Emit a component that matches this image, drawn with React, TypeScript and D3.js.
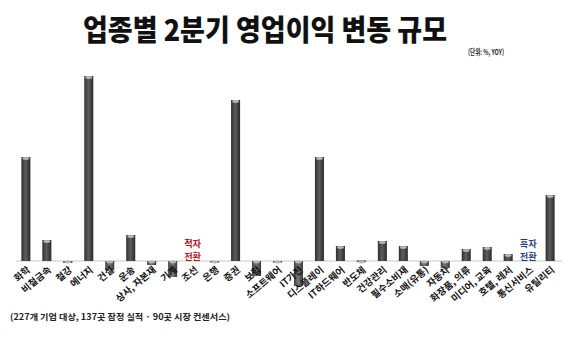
import React from "react";
import * as d3 from "d3";

const categories = [
  "화학", "비철금속", "철강", "에너지", "건설", "운송", "상사, 자본재", "기계", "조선", "은행",
  "증권", "보험", "소프트웨어", "IT가전", "디스플레이", "IT하드웨어", "반도체", "건강관리",
  "필수소비재", "소매(유통)", "자동차", "화장품, 의류", "미디어, 교육", "호텔, 레저", "통신서비스", "유틸리티",
];
const values: (number | null)[] = [
  104, 21, -2, 185, -9, 26, -4, -16, null, -1,
  161, -15, -1, -25, 104, 15, 0.5, 20,
  15, -5, -7, 12, 14, 7, null, 66,
];
const notes = [
  { category: "조선", lines: ["적자", "전환"], color: "#c0141c" },
  { category: "통신서비스", lines: ["흑자", "전환"], color: "#1f3f86" },
];
const title = "업종별 2분기 영업이익 변동 규모";
const unit = "(단위: %, YOY)";
const source = "(227개 기업 대상, 137곳 잠정 실적 · 90곳 시장 컨센서스)";

const W = 580, H = 342;
const FONT = "'Noto Sans CJK KR', 'Noto Sans', sans-serif";

export default function App() {
  const x = d3.scaleBand<string>().domain(categories).range([15.5, 560.5]).paddingInner(0.57).paddingOuter(0.28);
  const y = d3.scaleLinear().domain([-30, 200]).range([291, 61]);
  const bw = x.bandwidth();
  const cx = (c: string) => (x(c) as number) + bw / 2;
  const y0 = y(0);

  return (
    <svg width={W} height={H} style={{ position: "absolute", left: 0, top: 0, background: "#fff" }}>
      <defs>
        <linearGradient id="cyl" x1="0" x2="1" y1="0" y2="0">
          <stop offset="0" stopColor="#2e2e2e" />
          <stop offset="0.45" stopColor="#5e5e5e" />
          <stop offset="1" stopColor="#2a2a2a" />
        </linearGradient>
        <linearGradient id="cylNeg" x1="0" x2="1" y1="0" y2="0">
          <stop offset="0" stopColor="#3c3c3c" />
          <stop offset="0.45" stopColor="#7a7a7a" />
          <stop offset="1" stopColor="#383838" />
        </linearGradient>
      </defs>
      <rect width={W} height={H} fill="#fff" />
      <text x={265} y={41} textAnchor="middle" fontFamily={FONT} fontWeight={900} fontSize={29}
        textLength={364} lengthAdjust="spacingAndGlyphs" fill="#111">{title}</text>
      <text x={468} y={55} fontFamily={FONT} fontWeight={700} fontSize={8}
        textLength={36} lengthAdjust="spacingAndGlyphs" fill="#222">{unit}</text>

      <line x1={16} x2={562} y1={y0} y2={y0} stroke="#c8c8c8" strokeWidth={1} />

      {categories.map((c, i) => {
        const v = values[i];
        if (v === null) return null;
        const top = Math.min(y(v), y0);
        const h = Math.max(Math.abs(y(v) - y0), 1.5);
        const left = x(c) as number;
        return (
          <g key={c}>
            <rect x={left} y={top} width={bw} height={h} fill={v >= 0 ? "url(#cyl)" : "url(#cylNeg)"} />
            <ellipse cx={left + bw / 2} cy={v >= 0 ? top + 1.5 : top + 1} rx={bw / 2 - 1} ry={1.4} fill="#b5b5b5" />
          </g>
        );
      })}

      {categories.map((c) => (
        <text key={"l" + c} transform={`translate(${cx(c) + 5},${y0 + 10}) rotate(-40)`} textAnchor="end"
          fontFamily={FONT} fontWeight={700} fontSize={9.5} fill="#111">{c}</text>
      ))}

      {notes.map((n) => (
        <text key={n.category} textAnchor="middle" fontFamily={FONT} fontWeight={700} fontSize={9.2} fill={n.color}>
          {n.lines.map((t, j) => (
            <tspan key={t} x={cx(n.category) - 1} y={y0 - 14.5 + j * 13.4}>{t}</tspan>
          ))}
        </text>
      ))}

      <text x={10} y={320} fontFamily={FONT} fontWeight={700} fontSize={8.5}
        textLength={220} lengthAdjust="spacingAndGlyphs" fill="#222">{source}</text>
    </svg>
  );
}
